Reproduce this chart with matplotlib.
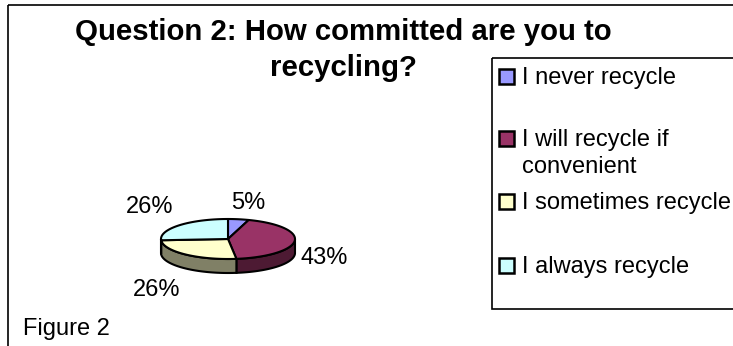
import numpy as np
import matplotlib
matplotlib.use("Agg")
import matplotlib.pyplot as plt
from matplotlib.patches import Polygon, Rectangle

# survey answers, clockwise from 12 o'clock
answers = ["I never recycle", "I will recycle if\nconvenient",
           "I sometimes recycle", "I always recycle"]
shares = [5, 43, 26, 26]
top_colors = ["#9999FF", "#993366", "#FFFFCC", "#CCFFFF"]
side_colors = ["#4D4D80", "#4D1A33", "#808066", "#668080"]

# label anchor points (pixels) for each slice's percentage
label_pos = [(248, 203), (324, 258), (157, 290), (150, 207)]
legend_rows = [84, 146, 209, 273]

plt.rcParams["font.family"] = ["Liberation Sans", "DejaVu Sans"]

W, H = 733, 346
fig = plt.figure(figsize=(W / 100, H / 100), dpi=100)
ax = fig.add_axes([0, 0, 1, 1])
ax.set_xlim(0, W)
ax.set_ylim(H, 0)
ax.axis("off")

# chart area border and legend box (run off the right/bottom edge)
ax.add_patch(Rectangle((8, 5), 740, 350, fill=False, ec="black", lw=1.2))
ax.add_patch(Rectangle((492, 58), 260, 251, fill=False, ec="black", lw=1.2))

ax.text(343, 40, "Question 2: How committed are you to", ha="center",
        va="baseline", fontsize=21.2, fontweight="bold")
ax.text(344, 76, "recycling?", ha="center", va="baseline",
        fontsize=21.2, fontweight="bold")

# 3-D pie
cx, cy, a, b, depth = 228, 239, 67, 20, 14


def rim(t0, t1, dy=0, n=60):
    t = np.radians(np.linspace(t0, t1, n))
    return np.column_stack([cx + a * np.sin(t), cy + dy - b * np.cos(t)])


bounds = np.concatenate([[0], np.cumsum(shares)]) / sum(shares) * 360

# side walls (only the front half, 90..270 deg, is visible)
for i in range(len(shares)):
    s0, s1 = max(bounds[i], 90), min(bounds[i + 1], 270)
    if s1 <= s0:
        continue
    top = rim(s0, s1)
    bot = rim(s1, s0, dy=depth)
    ax.add_patch(Polygon(np.vstack([top, bot]), closed=True,
                         fc=side_colors[i], ec="black", lw=1.5, zorder=2))

# top faces
for i in range(len(shares)):
    pts = np.vstack([[cx, cy], rim(bounds[i], bounds[i + 1])])
    ax.add_patch(Polygon(pts, closed=True, fc=top_colors[i], ec="black",
                         lw=1.5, joinstyle="round", zorder=3))

for (x, y), v in zip(label_pos, shares):
    ax.text(x, y, f"{v}%", ha="center", va="center", fontsize=17)

# legend: swatch beside first line, wrapped lines stacked below
for row, name, c in zip(legend_rows, answers, top_colors):
    ax.add_patch(Rectangle((499, row - 15), 15, 15, fc=c, ec="black",
                           lw=1.8, zorder=4))
    for k, line in enumerate(name.split("\n")):
        ax.text(522, row + 27 * k, line, ha="left", va="baseline",
                fontsize=17)

ax.text(23, 335, "Figure 2", ha="left", va="baseline", fontsize=17)

fig.savefig("out.png", dpi=100)
